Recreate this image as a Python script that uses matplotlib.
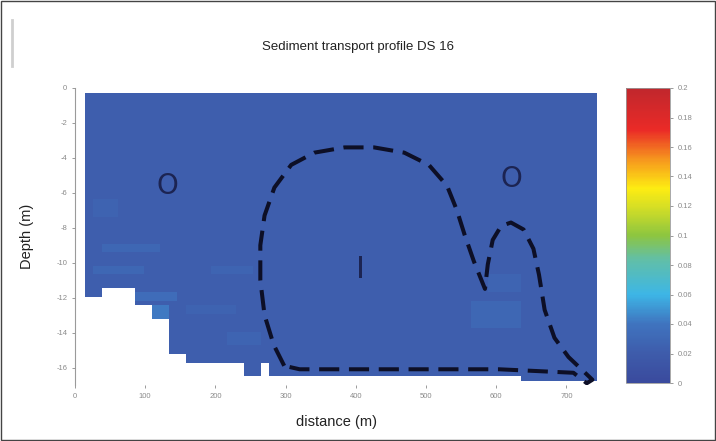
import numpy as np
import matplotlib
matplotlib.use("Agg")
import matplotlib.pyplot as plt
from matplotlib.colors import LinearSegmentedColormap
from matplotlib.patches import Rectangle
from matplotlib.lines import Line2D

plt.rcParams["font.family"] = ["Liberation Sans", "DejaVu Sans"]
plt.rcParams["axes.unicode_minus"] = False

# --- data ---
sed_base = 0.022                      # background transport value
data_left, data_right, data_top = 14, 743, -0.3

# sea bed: step start (m) and bed depth (m)
bed_x = [14, 38, 89, 111, 138, 163, 237, 263, 281, 310, 640]
bed_z = [-11.9, -11.4, -12.4, -13.3, -15.3, -15.8, -16.4, -15.8, -16.4, -16.4, -16.7]

# lighter streaks: x0, x1, top, bottom, value
streak_x0 = [35, 30, 85, 107, 190, 215, 560, 590, 20, 160]
streak_x1 = [120, 95, 140, 130, 255, 260, 640, 630, 60, 230]
streak_top = [-8.9, -10.2, -11.7, -12.5, -10.2, -14.0, -12.2, -10.8, -6.3, -12.4]
streak_bot = [-9.4, -10.8, -12.3, -14.0, -10.6, -14.6, -13.8, -11.8, -7.3, -12.9]
streak_val = [0.029, 0.029, 0.034, 0.042, 0.027, 0.027, 0.029, 0.027, 0.026, 0.026]

# hand drawn dashed outline (distance m, depth m)
outline_x = [298, 283, 270, 264, 264, 270, 284, 308, 341, 384, 426, 469, 504,
             530, 544, 555, 568, 584, 588, 595, 607, 621, 639, 653, 661, 669,
             683, 703, 724, 737, 729, 710, 604, 462, 320, 298]
outline_z = [-15.9, -14.7, -13.0, -11.0, -9.0, -7.3, -5.7, -4.4, -3.7, -3.4,
             -3.4, -3.7, -4.4, -5.6, -7.0, -8.4, -9.9, -11.5, -10.1, -8.7,
             -7.9, -7.7, -8.1, -9.2, -10.7, -12.7, -14.3, -15.4, -16.2, -16.7,
             -16.9, -16.3, -16.1, -16.1, -16.1, -15.9]

# zone labels
zone_text = ["O", "O", "I"]
zone_x = [131, 621, 406]
zone_z = [-5.6, -5.2, -10.4]

x_ticks = [0, 100, 200, 300, 400, 500, 600, 700]
y_ticks = [0, -2, -4, -6, -8, -10, -12, -14, -16]
cb_ticks = [0, 0.02, 0.04, 0.06, 0.08, 0.1, 0.12, 0.14, 0.16, 0.18, 0.2]
cb_labels = ["0", "0.02", "0.04", "0.06", "0.08", "0.1", "0.12", "0.14", "0.16", "0.18", "0.2"]

# --- grid ---
xe = np.linspace(data_left, data_right, 62)
ze = np.linspace(data_top, -17.0, 67)
xc = 0.5 * (xe[:-1] + xe[1:])
zc = 0.5 * (ze[:-1] + ze[1:])
field = np.full((len(zc), len(xc)), sed_base)
for x0, x1, t, b, v in zip(streak_x0, streak_x1, streak_top, streak_bot, streak_val):
    sel_x = (xc >= x0) & (xc <= x1)
    sel_z = (zc <= t) & (zc >= b)
    field[np.ix_(sel_z, sel_x)] = v
bed = np.array(bed_z)[np.searchsorted(bed_x, xc, side="right") - 1]
field = np.ma.masked_where(zc[:, None] < bed[None, :], field)

cmap = LinearSegmentedColormap.from_list("sed", [
    (0.00, "#3a4a9d"), (0.10, "#3e5cab"), (0.20, "#3f74bf"), (0.30, "#3db6e6"),
    (0.42, "#62bfa6"), (0.50, "#8dc540"), (0.60, "#d8df24"), (0.66, "#fdec12"),
    (0.76, "#f6951e"), (0.86, "#ea2a27"), (1.00, "#c0272d")])

fig = plt.figure(figsize=(7.16, 4.41), dpi=100)
ax = fig.add_axes([75 / 716, 1 - 385 / 441, 523 / 716, 297 / 441])
mesh = ax.pcolormesh(xe, ze, field, cmap=cmap, vmin=0, vmax=0.2, shading="flat")

ax.plot(outline_x, outline_z, color="#0d0f26", lw=2.9, ls=(0, (5, 2.4)),
        solid_capstyle="butt", dash_capstyle="butt")
for t, x, z in zip(zone_text, zone_x, zone_z):
    ax.text(x, z, t, fontsize=20 if t == "O" else 22, color="#1c2452",
            ha="center", va="center", family="DejaVu Sans")

ax.set_xlim(0, 745)
ax.set_ylim(-17, 0)
for s in ["top", "right", "bottom"]:
    ax.spines[s].set_visible(False)
ax.spines["left"].set_color("#9a9a9a")
ax.set_xticks(x_ticks)
ax.set_yticks(y_ticks)
ax.tick_params(labelsize=5.5, colors="#8a8a8a", length=2, width=0.6)
ax.set_xlabel("distance (m)", fontsize=10.5, color="#222222", labelpad=11)
ax.set_ylabel("Depth (m)", fontsize=10.5, color="#222222", labelpad=16)

cax = fig.add_axes([626 / 716, 1 - 383 / 441, 44 / 716, 295 / 441])
cb = fig.colorbar(mesh, cax=cax, ticks=cb_ticks)
cb.set_ticklabels(cb_labels)
cb.outline.set_edgecolor("#9a9a9a")
cb.outline.set_linewidth(0.6)
cax.tick_params(labelsize=5.5, colors="#8a8a8a", length=2, width=0.6)

fig.text(358 / 716, 1 - 47 / 441, "Sediment transport profile DS 16",
         ha="center", va="center", fontsize=9.5, color="#222222")

# page frame and grey side bar
fig.patches.append(Rectangle((0.0015, 0.002), 0.997, 0.996, transform=fig.transFigure,
                             fill=False, edgecolor="#444444", lw=1.0))
fig.lines.append(Line2D([12 / 716, 12 / 716], [1 - 20 / 441, 1 - 66 / 441],
                        transform=fig.transFigure, color="#cfcfcf", lw=2))

fig.savefig("out.png", dpi=100, facecolor="white")
